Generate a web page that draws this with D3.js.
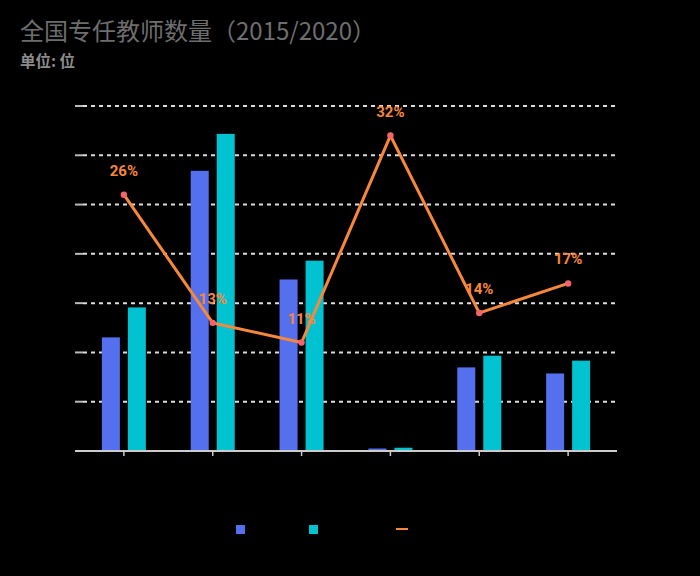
<!DOCTYPE html>
<html><head><meta charset="utf-8">
<script src="https://cdn.jsdelivr.net/npm/d3@7"></script>
<style>
html,body{margin:0;padding:0;background:#000;}
svg{display:block;font-family:"Noto Sans CJK SC","Noto Sans",sans-serif;}
</style></head>
<body><svg id="c" width="700" height="576"></svg>
<script>
const categories = ["幼儿园","小学","初中","特殊教育","高中","高等教育"];
const seriesNames = ["2015年","2020年","增长率"];
const values2015 = [2305000, 5685000, 3480000, 50300, 1696000, 1573000];
const values2020 = [2913400, 6434200, 3862000, 66200, 1933200, 1833000];
const growth = [0.26, 0.13, 0.11, 0.32, 0.14, 0.17];
const growthLabels = ["26%","13%","11%","32%","14%","17%"];
const yTicks = [0,1000000,2000000,3000000,4000000,5000000,6000000,7000000];
const y2Ticks = [0,0.05,0.10,0.15,0.20,0.25,0.30,0.35];

const colors = {b2015:"#5470ee", b2020:"#00c2d1", line:"#f7883b", dot:"#f5646a", grid:"#dddddd", axis:"#cccccc", hidden:"#000000"};
const svg = d3.select("#c");
const L=75, R=617, T=106, B=451;

const x = d3.scalePoint().domain(categories).range([L,R]).padding(0.55);
const y = d3.scaleLinear().domain([0,7000000]).range([B,T]);
const y2 = d3.scaleLinear().domain([0,0.35]).range([B,T]);

// title
svg.append("text").attr("x",20).attr("y",40).attr("fill","#6e6e6e").attr("font-size",24)
  .text("全国专任教师数量（2015/2020）");
svg.append("text").attr("x",20).attr("y",67).attr("fill","#8c8c8c").attr("font-size",15.5).attr("font-weight","bold")
  .text("单位: 位");

// grid
const gridVals = yTicks.filter(d=>d>0);
svg.append("g").selectAll("line").data(gridVals).join("line")
  .attr("x1",L+8).attr("x2",R).attr("y1",d=>y(d)).attr("y2",d=>y(d))
  .attr("stroke",colors.grid).attr("stroke-width",2).attr("stroke-dasharray","4,4");
svg.append("g").selectAll("line").data(gridVals).join("line")
  .attr("x1",L).attr("x2",L+8).attr("y1",d=>y(d)).attr("y2",d=>y(d))
  .attr("stroke","#bbbbbb").attr("stroke-width",2);

// y axis labels (dark on dark)
svg.append("g").selectAll("text").data(yTicks).join("text")
  .attr("x",L-6).attr("y",d=>y(d)+4).attr("text-anchor","end").attr("font-size",11)
  .attr("fill",colors.hidden).text(d=>d3.format(",")(d));

// bars
const bw = 18;
svg.append("g").selectAll("rect").data(categories).join("rect")
  .attr("x",d=>x(d)-22).attr("width",bw)
  .attr("y",(d,i)=>y(values2015[i])).attr("height",(d,i)=>B-y(values2015[i]))
  .attr("fill",colors.b2015);
svg.append("g").selectAll("rect").data(categories).join("rect")
  .attr("x",d=>x(d)+4).attr("width",bw)
  .attr("y",(d,i)=>y(values2020[i])).attr("height",(d,i)=>B-y(values2020[i]))
  .attr("fill",colors.b2020);

// x axis
svg.append("line").attr("x1",L).attr("x2",R).attr("y1",B).attr("y2",B)
  .attr("stroke",colors.axis).attr("stroke-width",2);
svg.append("g").selectAll("line").data(categories).join("line")
  .attr("x1",d=>x(d)).attr("x2",d=>x(d)).attr("y1",B).attr("y2",B+5)
  .attr("stroke",colors.axis).attr("stroke-width",1.5);
svg.append("g").selectAll("text").data(categories).join("text")
  .attr("x",d=>x(d)).attr("y",B+22).attr("text-anchor","middle").attr("font-size",12)
  .attr("fill",colors.hidden).text(d=>d);

// line
const line = d3.line().x((d,i)=>x(categories[i])).y(d=>y2(d));
svg.append("path").datum(growth).attr("d",line).attr("fill","none")
  .attr("stroke",colors.line).attr("stroke-width",3);
svg.append("g").selectAll("circle").data(growth).join("circle")
  .attr("cx",(d,i)=>x(categories[i])).attr("cy",d=>y2(d)).attr("r",3.2)
  .attr("fill",colors.dot);
svg.append("g").selectAll("text").data(growth).join("text")
  .attr("x",(d,i)=>x(categories[i])).attr("y",d=>y2(d)-19)
  .attr("text-anchor","middle").attr("font-size",15).attr("font-weight","bold")
  .attr("fill",colors.line).attr("font-family","Roboto, 'Noto Sans', sans-serif")
  .text((d,i)=>growthLabels[i]);

// legend
const lg = svg.append("g");
const lx = [236, 309, 396];
lg.append("rect").attr("x",lx[0]).attr("y",525).attr("width",9).attr("height",9).attr("fill",colors.b2015);
lg.append("rect").attr("x",lx[1]).attr("y",525).attr("width",9).attr("height",9).attr("fill",colors.b2020);
lg.append("line").attr("x1",lx[2]).attr("x2",lx[2]+12).attr("y1",529).attr("y2",529)
  .attr("stroke",colors.line).attr("stroke-width",2);
lg.selectAll("text").data(seriesNames).join("text")
  .attr("x",(d,i)=>lx[i]+(i==2?17:14)).attr("y",533).attr("font-size",12)
  .attr("fill",colors.hidden).text(d=>d);
</script></body></html>
